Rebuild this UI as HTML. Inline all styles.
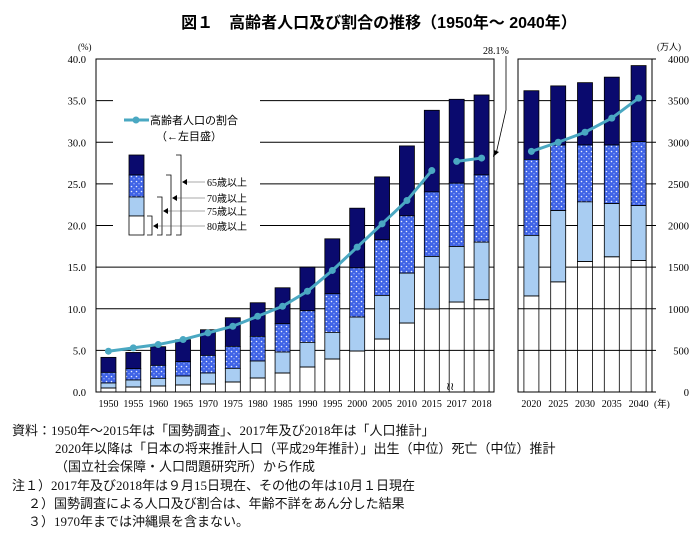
<!DOCTYPE html>
<html><head><meta charset="utf-8"><style>
body{margin:0;background:#fff;width:694px;height:544px;overflow:hidden;font-family:"Liberation Serif","Noto Serif CJK SC","Noto Sans CJK JP",serif}
svg text{font-family:"Liberation Serif","Noto Sans CJK JP",serif}
.note{position:absolute;font-size:13px;font-family:"Liberation Serif","Noto Sans CJK JP",serif;white-space:nowrap;color:#111}
</style></head><body>
<svg id="chart" width="694" height="544" style="position:absolute;left:0;top:0">
<defs>
<pattern id="dots" width="5" height="5" patternUnits="userSpaceOnUse">
<rect width="5" height="5" fill="#3f63e6"/><circle cx="1.5" cy="1.5" r="0.8" fill="#e8eeff"/><circle cx="4" cy="3.8" r="0.6" fill="#c8d4ff"/>
</pattern>
</defs>
<text x="379" y="28" text-anchor="middle" font-size="16" font-weight="bold" style="font-family:'Liberation Sans','Noto Sans CJK JP',sans-serif">図１　高齢者人口及び割合の推移（1950年～ 2040年）</text>
<g id="g"></g>
</svg>
<div class="note" style="left:12px;top:420px">資料：1950年～2015年は「国勢調査」、2017年及び2018年は「人口推計」</div>
<div class="note" style="left:55px;top:438px">2020年以降は「日本の将来推計人口（平成29年推計）」出生（中位）死亡（中位）推計</div>
<div class="note" style="left:55px;top:456px">（国立社会保障・人口問題研究所）から作成</div>
<div class="note" style="left:12px;top:475px">注１）2017年及び2018年は９月15日現在、その他の年は10月１日現在</div>
<div class="note" style="left:28px;top:493px">２）国勢調査による人口及び割合は、年齢不詳をあん分した結果</div>
<div class="note" style="left:28px;top:511px">３）1970年までは沖縄県を含まない。</div>
<script>
const leftYears=["1950","1955","1960","1965","1970","1975","1980","1985","1990","1995","2000","2005","2010","2015","2017","2018"];
const leftTotal=[416,475,544,628,748,892,1072,1252,1500,1840,2208,2584,2956,3384,3516,3568];
const left70=[236,280,320,364,440,548,668,820,976,1180,1492,1828,2116,2404,2508,2608];
const left75=[108,144,164,192,228,284,372,480,596,716,900,1160,1428,1628,1748,1800];
const left80=[48,60,72,84,96,120,168,228,300,396,492,636,828,996,1080,1108];
const leftRate=[4.9,5.3,5.7,6.3,7.1,7.9,9.1,10.3,12.1,14.6,17.4,20.2,23.0,26.6,27.7,28.1];
const rightYears=["2020","2025","2030","2035","2040"];
const rightTotal=[3619,3677,3716,3782,3921];
const right70=[2794,2967,2967,2967,3007];
const right75=[1881,2179,2284,2263,2239];
const right80=[1154,1323,1568,1624,1580];
const rightRate=[28.9,30.0,31.2,32.9,35.3];
const leftTicks=["0.0","5.0","10.0","15.0","20.0","25.0","30.0","35.0","40.0"];
const rightTicks=["0","500","1000","1500","2000","2500","3000","3500","4000"];

const NS="http://www.w3.org/2000/svg";
const g=document.getElementById('g');
function el(t,a,txt){const e=document.createElementNS(NS,t);for(const k in a)e.setAttribute(k,a[k]);if(txt!=null)e.textContent=txt;g.appendChild(e);return e;}
const Y0=392,Y40=59;
function yPct(v){return Y0-(v/40)*(Y0-Y40);}
function yMan(v){return yPct(v/100);}
const L={x0:96,x1:494},R={x0:518,x1:652};
function xL(i){const b=(L.x1-L.x0)/leftYears.length;return L.x0+b*(i+0.5);}
function xR(i){const b=(R.x1-R.x0)/rightYears.length;return R.x0+b*(i+0.5);}

leftTicks.forEach((t,i)=>{const v=i*5;const y=yPct(v);
 let ln=el('line',{x1:L.x0,x2:L.x1,y1:y,y2:y,stroke:'#000','stroke-width':1});
 
 let tx=el('text',{x:86,y:y+4,'text-anchor':'end','font-size':10.5},t);
 
});
rightTicks.forEach((t,i)=>{const y=yMan(+t);
 let ln=el('line',{x1:R.x0,x2:R.x1+4,y1:y,y2:y,stroke:'#000','stroke-width':1});
 
 let tx=el('text',{x:689,y:y+4,'text-anchor':'end','font-size':10.5},t);
 
});
let bg=el('rect',{x:113,y:100,width:147,height:145,fill:'#fff'});


function bars(years,tot,s70,s75,s80,xf,yf,pre){
 years.forEach((yr,i)=>{const x=xf(i)-7.5,w=15;
  const segs=[[tot[i],s70[i],'#0a0a6e'],[s70[i],s75[i],'url(#dots)'],[s75[i],s80[i],'#a9cdf2'],[s80[i],0,'none']];
  segs.forEach((s,k)=>{let r=el('rect',{x:x,y:yf(s[0]),width:w,height:yf(s[1])-yf(s[0]),fill:s[2],stroke:'#000','stroke-width':0.8});
   });
  let t=el('text',{x:xf(i),y:407,'text-anchor':'middle','font-size':10},yr);
  
 });
}
bars(leftYears,leftTotal,left70,left75,left80,xL,yMan,'left');
bars(rightYears,rightTotal,right70,right75,right80,xR,yMan,'right');

let f1=el('rect',{x:L.x0,y:Y40,width:L.x1-L.x0,height:Y0-Y40,fill:'none',stroke:'#000','stroke-width':1});

let f2=el('rect',{x:R.x0,y:Y40,width:R.x1-R.x0,height:Y0-Y40,fill:'none',stroke:'#000','stroke-width':1});


function line(rates,xf,idx,name){
 const pts=idx.map(i=>xf(i)+','+yPct(rates[i])).join(' ');
 let p=el('polyline',{points:pts,fill:'none',stroke:'#4aa8c2','stroke-width':3});
 
 idx.forEach(i=>{let c=el('circle',{cx:xf(i),cy:yPct(rates[i]),r:3.5,fill:'#4aa8c2'});
  });
}
line(leftRate,xL,[0,1,2,3,4,5,6,7,8,9,10,11,12,13],'rate-line-1950-2015');
line(leftRate,xL,[14,15],'rate-line-2017-2018');
line(rightRate,xR,[0,1,2,3,4],'rate-line-2020-2040');

let a=el('text',{x:78,y:50,'font-size':9},'(%)');
a=el('text',{x:657,y:50,'font-size':9},'(万人)');
a=el('text',{x:654,y:407,'font-size':9.5},'(年)');
a=el('text',{x:483,y:54,'font-size':10},'28.1%');
a=el('path',{d:'M506,56 L506,110 L496,154',fill:'none',stroke:'#000','stroke-width':0.8});
a=el('path',{d:'M493,157 L494,150 L499,152 Z',fill:'#000'});
a=el('text',{x:446,y:390,'font-size':11},'≀≀');

a=el('line',{x1:124,x2:149,y1:120,y2:120,stroke:'#4aa8c2','stroke-width':3});
a=el('circle',{cx:136,cy:120,r:3.5,fill:'#4aa8c2'});
a=el('text',{x:150,y:124,'font-size':11},'高齢者人口の割合');
a=el('text',{x:156,y:140,'font-size':11},'（←左目盛）');
const lsy=[155,175,197,216,235],lf=['#0a0a6e','url(#dots)','#a9cdf2','#fff'];
for(let k=0;k<4;k++){a=el('rect',{x:129,y:lsy[k],width:15,height:lsy[k+1]-lsy[k],fill:lf[k],stroke:'#000','stroke-width':0.8});}
const labs=['65歳以上','70歳以上','75歳以上','80歳以上'],ly=[186,202,215,230],bx=[181,171,162,152];
for(let k=0;k<4;k++){
 a=el('path',{d:`M${bx[k]-5},${lsy[k]} H${bx[k]} V235 H${bx[k]-5}`,fill:'none',stroke:'#000','stroke-width':0.8});
 a=el('line',{x1:bx[k]+2,x2:205,y1:ly[k]-4,y2:ly[k]-4,stroke:'#555','stroke-width':0.6});
 a=el('path',{d:`M${bx[k]+1},${ly[k]-4} l5,-3 v6 z`,fill:'#000'});
 a=el('text',{x:207,y:ly[k],'font-size':10},labs[k]);
}
</script>
</body></html>
